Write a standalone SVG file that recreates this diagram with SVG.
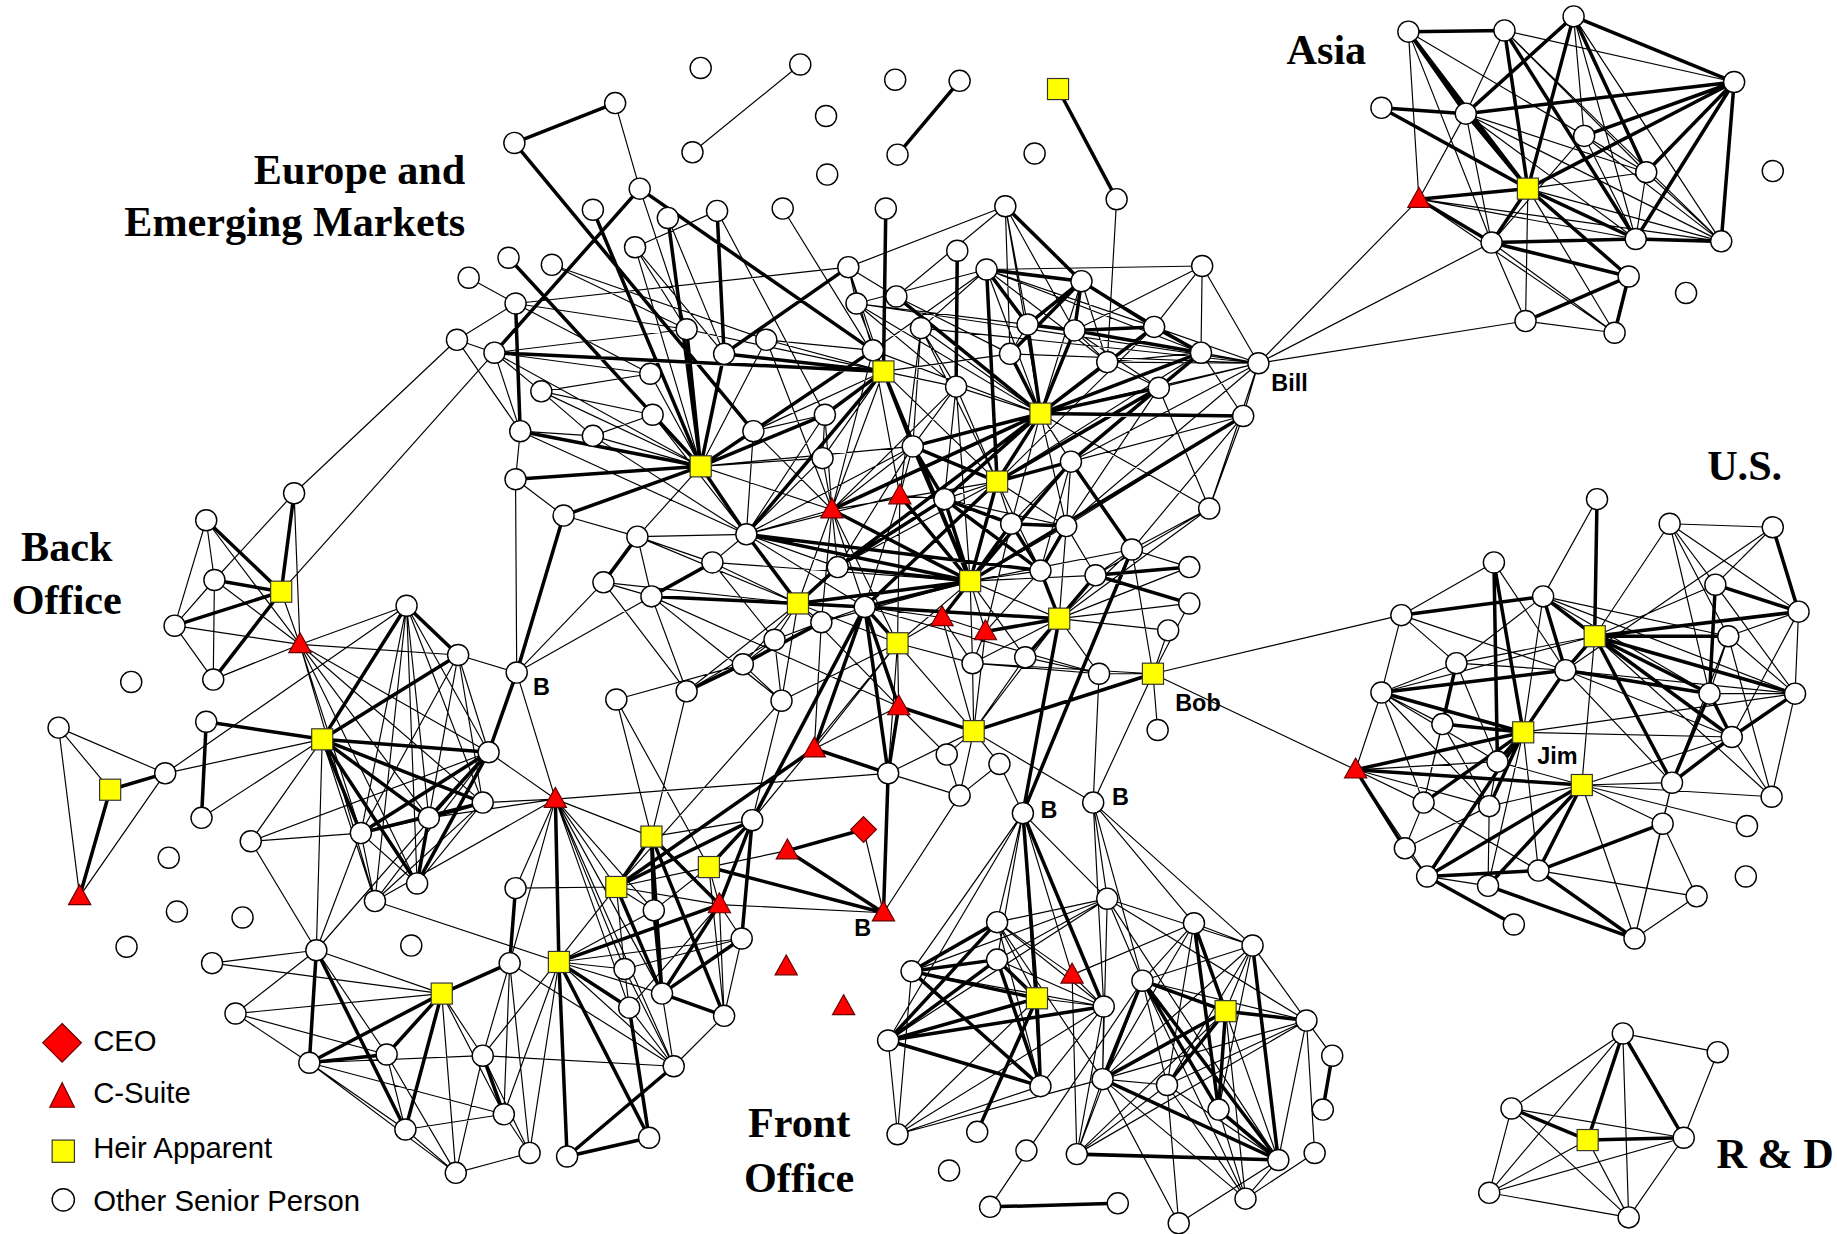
<svg xmlns="http://www.w3.org/2000/svg" xmlns:xlink="http://www.w3.org/1999/xlink" width="1837" height="1234" viewBox="0 0 1837 1234">
<style>
.t{stroke:#000;stroke-width:1;fill:none}
.k{stroke:#000;stroke-width:3;fill:none}
.h{font-family:"Liberation Serif","Times New Roman",serif;font-weight:bold;font-size:36px;fill:#000}
.l{font-family:"Liberation Sans",Arial,sans-serif;font-weight:bold;font-size:20px;fill:#000}
.g{font-family:"Liberation Sans",Arial,sans-serif;font-size:25px;fill:#000}
</style>
<defs>
<circle id="c" r="9" fill="#fff" stroke="#000" stroke-width="1.2"/>
<rect id="q" x="-9" y="-9" width="18" height="18" fill="#ffff00" stroke="#333" stroke-width="1"/>
<polygon id="v" points="0,-10 -9.5,7 9.5,7" fill="#ff0000" stroke="#600" stroke-width="1"/>
</defs>
<rect width="1837" height="1234" fill="#fff"/>
<g transform="scale(1.1717)">
<g id="connectors">
<path id="asia-k" class="k" d="M1202 27L1284 26M1202 27L1251 97M1202 27L1304 161M1284 26L1304 161M1284 26L1396 204M1343 14L1251 97M1343 14L1304 161M1343 14L1480 70M1343 14L1405 147M1179 92L1251 97M1179 92L1304 161M1251 97L1480 70M1304 161L1480 70M1352 116L1480 70M1304 161L1396 204M1304 161L1390 236M1304 161L1211 170M1304 161L1273 207M1211 170L1273 207M1273 207L1396 204M1273 207L1390 236M1396 204L1480 70M1396 204L1469 206M1480 70L1469 206M1390 236L1302 274M1390 236L1378 284M1405 147L1480 70M1251 97L1304 161"/>
<path id="asia-t" class="t" d="M1202 27L1211 170M1202 27L1273 207M1202 27L1405 147M1284 26L1480 70M1284 26L1251 97M1284 26L1405 147M1284 26L1469 206M1343 14L1352 116M1343 14L1469 206M1343 14L1396 204M1251 97L1273 207M1251 97L1396 204M1251 97L1469 206M1251 97L1405 147M1352 116L1469 206M1352 116L1396 204M1304 161L1405 147M1304 161L1302 274M1304 161L1378 284M1304 161L1469 206M1211 170L1396 204M1211 170L1469 206M1211 170L1378 284M1211 170L1251 97M1273 207L1302 274M1273 207L1378 284M1302 274L1378 284M1405 147L1396 204M1405 147L1469 206M1352 116L1273 207M1211 170L1074 310M1273 207L1074 310M1302 274L1074 310"/>
<path id="us-k" class="k" d="M1363 426L1361 543M1513 450L1535 522M1275 480L1300 625M1275 480L1278 650M1464 499L1535 522M1464 499L1459 592M1317 509L1196 525M1317 509L1361 543M1317 509L1336 572M1535 522L1361 543M1361 543L1475 543M1361 543L1459 592M1361 543L1532 592M1361 543L1478 629M1361 543L1427 668M1361 543L1336 572M1243 566L1231 618M1336 572L1179 591M1336 572L1300 625M1336 572L1459 592M1459 592L1478 629M1459 592L1427 668M1532 592L1478 629M1231 618L1300 625M1300 625L1157 657M1300 625L1278 650M1300 625L1215 685M1300 625L1271 688M1300 625L1218 748M1478 629L1427 668M1350 670L1157 657M1350 670L1313 743M1350 670L1270 756M1350 670L1218 748M1157 657L1199 724M1218 748L1292 789M1218 748L1313 743M1270 756L1395 801M1313 743L1419 703M1313 743L1395 801M1179 591L1300 625"/>
<path id="us-t" class="t" d="M1363 426L1317 509M1425 447L1513 450M1425 447L1361 543M1425 447L1464 499M1425 447L1475 543M1425 447L1535 522M1425 447L1459 592M1513 450L1464 499M1513 450L1336 572M1275 480L1196 525M1275 480L1336 572M1464 499L1361 543M1464 499L1532 592M1317 509L1459 592M1317 509L1532 592M1317 509L1475 543M1317 509L1478 629M1317 509L1300 625M1317 509L1243 566M1196 525L1243 566M1196 525L1336 572M1196 525L984 575M1196 525L1179 591M1535 522L1532 592M1535 522L1478 629M1535 522L1475 543M1361 543L1179 591M1361 543L1243 566M1361 543L1512 680M1361 543L1350 670M1475 543L1459 592M1475 543L1427 668M1475 543L1512 680M1475 543L1532 592M1243 566L1179 591M1243 566L1336 572M1243 566L1278 650M1243 566L1215 685M1336 572L1532 592M1336 572L1427 668M1336 572L1478 629M1179 591L1231 618M1179 591L1157 657M1179 591L1215 685M1179 591L1278 650M1179 591L1271 688M1459 592L1532 592M1532 592L1512 680M1231 618L1215 685M1231 618L1271 688M1300 625L1478 629M1300 625L1270 756M1300 625L1313 743M1300 625L1532 592M1478 629L1512 680M1478 629L1350 670M1278 650L1157 657M1278 650L1350 670M1278 650L1271 688M1350 670L1427 668M1350 670L1512 680M1350 670L1419 703M1350 670L1491 705M1350 670L1271 688M1350 670L1395 801M1157 657L1215 685M1157 657L1218 748M1157 657L1271 688M1157 657L984 575M1199 724L1218 748M1199 724L1271 688M1218 748L1270 756M1419 703L1395 801M1419 703L1448 765M1448 765L1395 801M1313 743L1448 765M1427 668L1419 703M1427 668L1395 801M1271 688L1270 756M1215 685L1199 724M1215 685L1313 743"/>
<path id="rd-k" class="k" d="M1385 882L1355 973M1385 882L1437 971M1290 946L1355 973M1355 973L1437 971"/>
<path id="rd-t" class="t" d="M1385 882L1466 898M1466 898L1437 971M1385 882L1290 946M1385 882L1271 1018M1385 882L1390 1039M1290 946L1271 1018M1290 946L1437 971M1290 946L1390 1039M1355 973L1271 1018M1355 973L1390 1039M1437 971L1271 1018M1437 971L1390 1039M1271 1018L1390 1039"/>
<path id="eu-k" class="k" d="M525 88L439 122M819 69L766 132M903 76L953 170M439 122L643 368M546 161L422 301M546 161L745 299M506 179L598 398M570 186L598 398M612 180L618 302M756 178L754 317M434 220L598 398M440 259L444 368M422 301L754 317M618 302L754 317M724 228L618 302M598 398L586 281M598 398L618 302M598 398L557 354M598 398L444 368M598 398L704 354M598 398L440 409M598 398L481 440M598 398L637 456M598 398L745 299M754 317L704 354M754 317L779 381M754 317L828 496M754 317L637 456M765 253L888 353M637 456L681 515M637 456L828 496M637 456L888 487M710 435L828 496M768 423L828 496M888 353L862 302M888 353L877 277M888 353L917 282M888 353L985 279M888 353L945 309M888 353L989 331M888 353L851 411M888 353L806 426M888 353L779 381M888 353L1025 301M888 353L710 435M888 353L715 484M888 353L1061 355M851 411L779 381M851 411L828 496M851 411L914 394M851 411L989 331M851 411L738 518M851 411L842 230M817 214L816 330M842 230L923 240M842 230L877 277M923 240L877 277M923 240L917 282M923 240L985 279M923 240L862 302M858 176L923 240M877 277L917 282M917 282L985 279M917 282L1025 301M985 279L1025 301M1025 301L989 331M989 331L914 394M1061 355L828 496M914 394L828 496M914 394L966 469M779 381L806 426M779 381L828 496M806 426L828 496M806 426L863 447M806 426L888 487M806 426L715 484M863 447L910 449M863 447L828 496M863 447L888 487M910 449L888 487M966 469L873 694M888 487L904 528M935 491L1015 484M935 491L1015 515M935 491L904 528M828 496L804 527M828 496L715 484M828 496L738 518M828 496L681 515M681 515L556 509M681 515L715 484M681 515L738 518M608 480L556 509M544 458L515 497M738 518L766 549M738 518L767 603M738 518L695 639M738 518L904 528M738 518L758 660M738 518L642 700M701 531L634 567M634 567L586 590M841 539L904 528M904 528L875 561M904 528L873 694M984 575L831 624M767 603L831 624M767 603L758 660M695 639L758 660M695 639L526 757M441 574L417 642M441 574L481 440"/>
<path id="eu-t" class="t" d="M683 55L591 130M525 88L546 161M953 170L945 309M546 161L586 281M570 186L618 302M612 180L542 211M612 180L704 354M668 178L754 317M542 211L586 281M542 211L618 302M542 211L598 398M471 226L586 281M471 226L654 290M400 237L440 259M440 259L390 290M440 259L724 228M440 259L586 281M440 259L555 319M390 290L422 301M390 290L444 368M422 301L462 334M422 301L555 319M422 301L586 281M422 301L598 398M422 301L444 368M462 334L555 319M462 334L598 398M462 334L557 354M462 334L506 372M724 228L745 299M724 228L765 253M724 228L858 176M724 228L754 317M724 228L731 259M731 259L842 230M731 259L754 317M731 259L888 353M731 259L816 330M731 259L1074 310M731 259L877 277M765 253L862 302M745 299L754 317M745 299L654 290M754 317L586 281M754 317L654 290M754 317L643 368M754 317L710 435M754 317L816 330M754 317L862 302M754 317L851 411M754 317L702 391M598 398L555 319M598 398L654 290M598 398L506 372M598 398L643 368M598 398L544 458M598 398L702 391M598 398L710 435M598 398L779 381M637 456L710 435M637 456L544 458M637 456L608 480M637 456L715 484M637 456L738 518M637 456L779 381M637 456L704 354M637 456L643 368M637 456L506 372M637 456L444 368M637 456L557 354M637 456L768 423M637 456L702 391M710 435L704 354M710 435L702 391M710 435L643 368M710 435L715 484M710 435L681 515M710 435L738 518M710 435L745 299M710 435L654 290M710 435L779 381M710 435L766 549M710 435L701 531M710 435L816 330M710 435L851 411M768 423L766 549M768 423L779 381M768 423L806 426M768 423L786 280M768 423L745 299M768 423L738 518M888 353L858 176M888 353L923 240M888 353L1074 310M888 353L914 394M888 353L863 447M888 353L816 330M888 353L786 280M888 353L842 230M888 353L910 449M888 353L1032 434M888 353L745 299M851 411L816 330M851 411L786 280M851 411L806 426M851 411L863 447M851 411L910 449M851 411L985 279M851 411L715 484M851 411L888 487M851 411L1025 301M842 230L1026 227M842 230L985 279M842 230L1025 301M842 230L945 309M842 230L786 280M842 230L745 299M923 240L945 309M923 240L1025 301M858 176L877 277M858 176L917 282M858 176L862 302M858 176L765 253M1026 227L985 279M1026 227L1074 310M1026 227L1025 301M1026 227L917 282M877 277L862 302M917 282L945 309M917 282L989 331M985 279L1074 310M945 309L1074 310M945 309L1025 301M945 309L989 331M1025 301L1074 310M1025 301L1061 355M1074 310L1061 355M1074 310L989 331M1074 310L914 394M1074 310L1032 434M1074 310L910 449M1074 310L862 302M1074 310L786 280M1074 310L917 282M989 331L910 449M989 331L1032 434M1061 355L1032 434M1061 355L914 394M1061 355L910 449M1061 355L966 469M914 394L863 447M914 394L910 449M914 394L888 487M816 330L779 381M816 330L828 496M816 330L806 426M786 280L816 330M786 280L779 381M779 381L715 484M806 426L910 449M863 447L841 539M910 449L935 491M910 449L904 528M910 449L828 496M1032 434L966 469M1032 434L935 491M1032 434L904 528M966 469L935 491M966 469L904 528M966 469L828 496M966 469L1015 484M888 487L828 496M888 487L841 539M828 496L841 539M828 496L904 528M828 496L701 531M828 496L830 566M828 496L875 561M828 496L766 549M828 496L608 480M828 496L935 491M681 515L608 480M681 515L701 531M681 515L767 603M681 515L667 598M681 515L661 546M681 515L634 567M681 515L766 549M681 515L544 458M681 515L515 497M681 515L586 590M608 480L544 458M608 480L661 546M544 458L556 509M515 497L556 509M515 497L586 590M515 497L441 574M556 509L586 590M556 509L667 598M556 509L767 603M556 509L441 574M738 518L701 531M738 518L804 527M738 518L938 575M701 531L661 546M701 531L695 639M661 546L634 567M661 546L586 590M661 546L667 598M634 567L667 598M586 590L556 714M526 597L605 740M526 597L634 567M667 598L766 549M667 598L526 757M667 598L642 700M804 527L830 566M804 527L766 549M804 527L841 539M804 527L831 624M841 539L830 566M841 539L831 624M904 528L938 575M904 528L997 538M904 528L1015 484M904 528L1015 515M904 528L831 624M904 528L830 566M766 549L767 603M766 549L830 566M766 549L831 624M766 549L758 660M766 549L642 700M766 549L695 639M830 566L831 624M830 566L938 575M830 566L984 575M875 561L831 624M875 561L938 575M938 575L984 575M938 575L933 685M984 575L997 538M984 575L988 623M984 575L933 685M984 575L1015 515M984 575L966 469M767 603L808 644M767 603L695 639M831 624L808 644M831 624L853 652M831 624L819 679M831 624L933 685M831 624L758 660M808 644L819 679M853 652L819 679M853 652L873 694M758 660L819 679M758 660L474 682M819 679L754 779M441 574L440 409M441 574L391 559M441 574L474 682M440 409L481 440M444 368L506 372M444 368L440 409M506 372L557 354M481 440L544 458M702 391L704 354M643 368L704 354"/>
<path id="sw-k" class="k" d="M251 421L240 505M176 444L240 505M183 495L240 505M149 534L240 505M182 580L240 505M347 517L275 631M347 517L391 559M275 631L176 616M275 631L391 559M275 631L308 711M275 631L366 698M275 631L356 754M275 631L417 642M275 631L412 685M176 616L172 698M94 674L141 660M94 674L68 765M308 711L417 642M308 711L412 685M366 698L412 685M366 698L417 642M366 698L356 754M356 754L417 642M270 811L264 907M270 811L346 964M377 848L264 907M377 848L330 900M377 848L346 964M377 848L435 822M264 907L330 900M474 682L477 821"/>
<path id="sw-t" class="t" d="M251 421L183 495M251 421L256 550M251 421L390 290M240 505L422 301M176 444L183 495M176 444L149 534M176 444L256 550M183 495L149 534M183 495L182 580M183 495L256 550M149 534L182 580M149 534L256 550M182 580L256 550M240 505L256 550M256 550L347 517M256 550L391 559M256 550L308 711M256 550L366 698M256 550L356 754M256 550L417 642M256 550L412 685M256 550L320 769M347 517L417 642M347 517L412 685M347 517L366 698M347 517L356 754M347 517L308 711M347 517L320 769M347 517L141 660M391 559L417 642M391 559L412 685M391 559L366 698M391 559L356 754M391 559L308 711M275 631L141 660M275 631L320 769M275 631L214 718M275 631L270 811M275 631L172 698M50 621L94 674M50 621L141 660M50 621L68 765M141 660L68 765M308 711L366 698M308 711L356 754M308 711L320 769M356 754L412 685M320 769L412 685M320 769L417 642M320 769L477 821M214 718L417 642M214 718L308 711M270 811L330 900M270 811L377 848M270 811L181 822M270 811L201 865M270 811L308 711M270 811L214 718M270 811L417 642M181 822L377 848M201 865L377 848M201 865L264 907M201 865L330 900M377 848L389 1001M377 848L412 901M377 848L430 951M264 907L346 964M264 907L389 1001M264 907L412 901M264 907L430 951M330 900L346 964M330 900L389 1001M346 964L389 1001M346 964L430 951M389 1001L452 984M389 1001L412 901M474 682L440 758M474 682L417 642M474 682L412 685M474 682L366 698M474 682L320 769M474 682L526 757M474 682L558 777M474 682L533 827M474 682L565 848M474 682L435 822M474 682L575 910M474 682L537 860"/>
<path id="ms-k" class="k" d="M526 757L556 714M526 757L642 700M526 757L565 848M556 714L558 777M556 714L614 772M556 714L565 848M556 714L618 867M605 740L642 700M605 740L754 779M642 700L633 801M642 700L614 772M614 772L477 821M614 772L565 848M672 726L737 708M672 726L754 779M754 779L758 660M633 801L565 848M477 821L484 987M477 821L554 971M477 821L537 860M440 758L435 822M565 848L618 867M537 860L554 971M575 910L484 987M554 971L484 987M412 901L430 951M558 777L565 848"/>
<path id="ms-t" class="t" d="M526 757L440 758M526 757L533 827M526 757L558 777M526 757L614 772M526 757L412 901M526 757L605 740M556 714L526 597M556 714L474 682M556 714L642 700M605 740L614 772M605 740L618 867M605 740L558 777M614 772L633 801M614 772L618 867M614 772L754 779M614 772L537 860M737 708L754 779M672 726L605 740M633 801L618 867M633 801L477 821M633 801L533 827M477 821L533 827M477 821L575 910M477 821L565 848M477 821L452 984M477 821L430 951M477 821L558 777M435 822L430 951M435 822L452 984M435 822L412 901M435 822L575 910M533 827L537 860M533 827L575 910M565 848L575 910M537 860L575 910M618 867L575 910M412 901L452 984M412 901L575 910M430 951L452 984"/>
<path id="fo-k" class="k" d="M873 694L885 852M873 694L942 859M851 787L778 829M851 787L758 888M778 829L851 819M778 829L885 852M778 829L888 927M851 819L885 852M851 819L888 927M851 819L758 888M758 888L885 852M758 888L942 859M758 888L888 927M885 852L888 927M885 852L834 966M975 837L941 921M975 837L1046 863M975 837L1040 947M975 837L1091 990M1019 788L1046 863M1019 788L1040 947M1069 807L1091 990M1046 863L1115 871M1046 863L941 921M1046 863L996 926M1046 863L1040 947M1137 901L1129 947M941 921L1091 990M1040 947L1091 990M919 985L1091 990M845 1030L954 1027"/>
<path id="fo-t" class="t" d="M873 694L778 829M873 694L851 787M873 694L851 819M873 694L888 927M873 694L945 767M873 694L758 888M873 694L915 832M933 685L945 767M933 685L1019 788M933 685L1069 807M933 685L975 837M933 685L942 859M945 767L851 787M945 767L778 829M945 767L758 888M945 767L851 819M945 767L975 837M945 767L941 921M945 767L1069 807M945 767L1115 871M945 767L1091 990M851 787L885 852M851 787L942 859M851 787L888 927M851 787L941 921M851 787L915 832M778 829L942 859M778 829L766 968M851 819L942 859M758 888L766 968M885 852L942 859M885 852L766 968M888 927L766 968M888 927L942 859M942 859L941 921M942 859L919 985M942 859L766 968M975 837L996 926M975 837L845 1030M975 837L919 985M975 837L1069 807M975 837L1115 871M975 837L1063 1023M1019 788L1069 807M1019 788L941 921M1019 788L996 926M1019 788L975 837M1069 807L1046 863M1069 807L1115 871M1069 807L1040 947M1069 807L941 921M1069 807L996 926M1046 863L1091 990M1046 863L1063 1023M1046 863L919 985M1115 871L941 921M1115 871L996 926M1115 871L1091 990M1115 871L1122 984M1115 871L1137 901M1115 871L919 985M941 921L919 985M941 921L996 926M941 921L1063 1023M941 921L1006 1044M941 921L766 968M996 926L1091 990M996 926L1063 1023M996 926L1006 1044M996 926L919 985M1040 947L1063 1023M1091 990L1063 1023M1091 990L1006 1044M1122 984L1063 1023M915 832L919 985M915 832L942 859M915 832L1019 788"/>
</g>
<g id="nodes">
<g id="t1"><use href="#c" x="598" y="58"/></g>
<g id="t2"><use href="#c" x="683" y="55"/></g>
<g id="t3"><use href="#c" x="591" y="130"/></g>
<g id="t4"><use href="#c" x="525" y="88"/></g>
<g id="t5"><use href="#c" x="439" y="122"/></g>
<g id="t6"><use href="#c" x="764" y="68"/></g>
<g id="t7"><use href="#c" x="819" y="69"/></g>
<g id="t8"><use href="#c" x="766" y="132"/></g>
<g id="t9"><use href="#c" x="705" y="99"/></g>
<g id="t10"><use href="#c" x="706" y="149"/></g>
<g id="t11"><use href="#c" x="883" y="131"/></g>
<g id="tS"><use href="#q" x="903" y="76"/></g>
<g id="n1"><use href="#c" x="546" y="161"/></g>
<g id="n2"><use href="#c" x="506" y="179"/></g>
<g id="n3"><use href="#c" x="570" y="186"/></g>
<g id="n4"><use href="#c" x="612" y="180"/></g>
<g id="n5"><use href="#c" x="668" y="178"/></g>
<g id="n6"><use href="#c" x="756" y="178"/></g>
<g id="n7"><use href="#c" x="858" y="176"/></g>
<g id="n8"><use href="#c" x="953" y="170"/></g>
<g id="n9"><use href="#c" x="542" y="211"/></g>
<g id="n10"><use href="#c" x="434" y="220"/></g>
<g id="n11"><use href="#c" x="471" y="226"/></g>
<g id="n12"><use href="#c" x="400" y="237"/></g>
<g id="n13"><use href="#c" x="440" y="259"/></g>
<g id="n14"><use href="#c" x="390" y="290"/></g>
<g id="n15"><use href="#c" x="422" y="301"/></g>
<g id="n16"><use href="#c" x="462" y="334"/></g>
<g id="n17"><use href="#c" x="586" y="281"/></g>
<g id="n18"><use href="#c" x="618" y="302"/></g>
<g id="n19"><use href="#c" x="555" y="319"/></g>
<g id="n20"><use href="#c" x="654" y="290"/></g>
<g id="n21"><use href="#c" x="724" y="228"/></g>
<g id="n22"><use href="#c" x="731" y="259"/></g>
<g id="n23"><use href="#c" x="765" y="253"/></g>
<g id="n24"><use href="#c" x="745" y="299"/></g>
<g id="S1"><use href="#q" x="754" y="317"/></g>
<g id="n25"><use href="#c" x="817" y="214"/></g>
<g id="n26"><use href="#c" x="842" y="230"/></g>
<g id="n27"><use href="#c" x="923" y="240"/></g>
<g id="n28"><use href="#c" x="1026" y="227"/></g>
<g id="n30"><use href="#c" x="786" y="280"/></g>
<g id="n31"><use href="#c" x="877" y="277"/></g>
<g id="n32"><use href="#c" x="917" y="282"/></g>
<g id="n33"><use href="#c" x="985" y="279"/></g>
<g id="n34"><use href="#c" x="862" y="302"/></g>
<g id="n35"><use href="#c" x="945" y="309"/></g>
<g id="n36"><use href="#c" x="1025" y="301"/></g>
<g id="Bill"><use href="#c" x="1074" y="310"/></g>
<g id="n37"><use href="#c" x="816" y="330"/></g>
<g id="n38"><use href="#c" x="989" y="331"/></g>
<g id="S2"><use href="#q" x="888" y="353"/></g>
<g id="n39"><use href="#c" x="1061" y="355"/></g>
<g id="n40"><use href="#c" x="704" y="354"/></g>
<g id="n41"><use href="#c" x="557" y="354"/></g>
<g id="n42"><use href="#c" x="506" y="372"/></g>
<g id="n43"><use href="#c" x="444" y="368"/></g>
<g id="S3"><use href="#q" x="598" y="398"/></g>
<g id="n44"><use href="#c" x="643" y="368"/></g>
<g id="n45"><use href="#c" x="702" y="391"/></g>
<g id="n46"><use href="#c" x="779" y="381"/></g>
<g id="n47"><use href="#c" x="914" y="394"/></g>
<g id="S4"><use href="#q" x="851" y="411"/></g>
<g id="n48"><use href="#c" x="806" y="426"/></g>
<g id="n49"><use href="#c" x="863" y="447"/></g>
<g id="n50"><use href="#c" x="910" y="449"/></g>
<g id="n51"><use href="#c" x="1032" y="434"/></g>
<g id="T1"><use href="#v" x="710" y="435"/></g>
<g id="T2"><use href="#v" x="768" y="423"/></g>
<g id="n52"><use href="#c" x="440" y="409"/></g>
<g id="n53"><use href="#c" x="481" y="440"/></g>
<g id="n54"><use href="#c" x="544" y="458"/></g>
<g id="n55"><use href="#c" x="637" y="456"/></g>
<g id="n56"><use href="#c" x="966" y="469"/></g>
<g id="n57"><use href="#c" x="888" y="487"/></g>
<g id="n58"><use href="#c" x="935" y="491"/></g>
<g id="n59"><use href="#c" x="1015" y="484"/></g>
<g id="n60"><use href="#c" x="1015" y="515"/></g>
<g id="S5"><use href="#q" x="828" y="496"/></g>
<g id="n61"><use href="#c" x="608" y="480"/></g>
<g id="n62"><use href="#c" x="715" y="484"/></g>
<g id="n63"><use href="#c" x="515" y="497"/></g>
<g id="n64"><use href="#c" x="556" y="509"/></g>
<g id="S6"><use href="#q" x="681" y="515"/></g>
<g id="n65"><use href="#c" x="738" y="518"/></g>
<g id="n66"><use href="#c" x="701" y="531"/></g>
<g id="T3"><use href="#v" x="804" y="527"/></g>
<g id="T4"><use href="#v" x="841" y="539"/></g>
<g id="S7"><use href="#q" x="904" y="528"/></g>
<g id="n67"><use href="#c" x="997" y="538"/></g>
<g id="S8"><use href="#q" x="766" y="549"/></g>
<g id="n68"><use href="#c" x="661" y="546"/></g>
<g id="n69"><use href="#c" x="634" y="567"/></g>
<g id="n70"><use href="#c" x="875" y="561"/></g>
<g id="n71"><use href="#c" x="830" y="566"/></g>
<g id="n72"><use href="#c" x="938" y="575"/></g>
<g id="Bob"><use href="#q" x="984" y="575"/></g>
<g id="n73"><use href="#c" x="988" y="623"/></g>
<g id="n74"><use href="#c" x="586" y="590"/></g>
<g id="n75"><use href="#c" x="526" y="597"/></g>
<g id="n76"><use href="#c" x="667" y="598"/></g>
<g id="T5"><use href="#v" x="767" y="603"/></g>
<g id="S9"><use href="#q" x="831" y="624"/></g>
<g id="n77"><use href="#c" x="808" y="644"/></g>
<g id="n78"><use href="#c" x="853" y="652"/></g>
<g id="T6"><use href="#v" x="695" y="639"/></g>
<g id="n79"><use href="#c" x="758" y="660"/></g>
<g id="n80"><use href="#c" x="819" y="679"/></g>
<g id="B1"><use href="#c" x="873" y="694"/></g>
<g id="B2"><use href="#c" x="933" y="685"/></g>
<g id="Bn"><use href="#c" x="441" y="574"/></g>
<g id="w1"><use href="#c" x="251" y="421"/></g>
<g id="w2"><use href="#c" x="176" y="444"/></g>
<g id="w3"><use href="#c" x="183" y="495"/></g>
<g id="WS1"><use href="#q" x="240" y="505"/></g>
<g id="w4"><use href="#c" x="149" y="534"/></g>
<g id="WT1"><use href="#v" x="256" y="550"/></g>
<g id="w5"><use href="#c" x="182" y="580"/></g>
<g id="w6"><use href="#c" x="112" y="582"/></g>
<g id="w7"><use href="#c" x="347" y="517"/></g>
<g id="w8"><use href="#c" x="391" y="559"/></g>
<g id="w9"><use href="#c" x="50" y="621"/></g>
<g id="w10"><use href="#c" x="176" y="616"/></g>
<g id="WS2"><use href="#q" x="275" y="631"/></g>
<g id="WS3"><use href="#q" x="94" y="674"/></g>
<g id="w11"><use href="#c" x="141" y="660"/></g>
<g id="w12"><use href="#c" x="172" y="698"/></g>
<g id="WT2"><use href="#v" x="68" y="765"/></g>
<g id="w13"><use href="#c" x="144" y="732"/></g>
<g id="w14"><use href="#c" x="151" y="778"/></g>
<g id="w15"><use href="#c" x="207" y="783"/></g>
<g id="w16"><use href="#c" x="108" y="808"/></g>
<g id="w17"><use href="#c" x="181" y="822"/></g>
<g id="w18"><use href="#c" x="214" y="718"/></g>
<g id="w19"><use href="#c" x="308" y="711"/></g>
<g id="w20"><use href="#c" x="366" y="698"/></g>
<g id="w21"><use href="#c" x="356" y="754"/></g>
<g id="w22"><use href="#c" x="320" y="769"/></g>
<g id="w23"><use href="#c" x="270" y="811"/></g>
<g id="w24"><use href="#c" x="351" y="807"/></g>
<g id="WS4"><use href="#q" x="377" y="848"/></g>
<g id="w25"><use href="#c" x="201" y="865"/></g>
<g id="w26"><use href="#c" x="264" y="907"/></g>
<g id="w27"><use href="#c" x="330" y="900"/></g>
<g id="w28"><use href="#c" x="346" y="964"/></g>
<g id="w29"><use href="#c" x="389" y="1001"/></g>
<g id="w30"><use href="#c" x="417" y="642"/></g>
<g id="w31"><use href="#c" x="412" y="685"/></g>
<g id="WT3"><use href="#v" x="474" y="682"/></g>
<g id="m1"><use href="#c" x="440" y="758"/></g>
<g id="MS1"><use href="#q" x="526" y="757"/></g>
<g id="MS2"><use href="#q" x="556" y="714"/></g>
<g id="MS3"><use href="#q" x="605" y="740"/></g>
<g id="m2"><use href="#c" x="558" y="777"/></g>
<g id="MT1"><use href="#v" x="614" y="772"/></g>
<g id="m3"><use href="#c" x="642" y="700"/></g>
<g id="MT2"><use href="#v" x="672" y="726"/></g>
<g id="CEO"><polygon points="737,697 748,708 737,719 726,708" fill="#ff0000" stroke="#600" stroke-width="1"/></g>
<g id="MT3"><use href="#v" x="754" y="779"/></g>
<g id="m4"><use href="#c" x="633" y="801"/></g>
<g id="m5"><use href="#c" x="435" y="822"/></g>
<g id="MS4"><use href="#q" x="477" y="821"/></g>
<g id="m6"><use href="#c" x="533" y="827"/></g>
<g id="m7"><use href="#c" x="565" y="848"/></g>
<g id="m8"><use href="#c" x="537" y="860"/></g>
<g id="m9"><use href="#c" x="618" y="867"/></g>
<g id="MT4"><use href="#v" x="671" y="825"/></g>
<g id="MT5"><use href="#v" x="720" y="859"/></g>
<g id="m10"><use href="#c" x="575" y="910"/></g>
<g id="m11"><use href="#c" x="554" y="971"/></g>
<g id="m12"><use href="#c" x="484" y="987"/></g>
<g id="m13"><use href="#c" x="452" y="984"/></g>
<g id="m14"><use href="#c" x="430" y="951"/></g>
<g id="m15"><use href="#c" x="412" y="901"/></g>
<g id="f1"><use href="#c" x="778" y="829"/></g>
<g id="f2"><use href="#c" x="758" y="888"/></g>
<g id="f3"><use href="#c" x="766" y="968"/></g>
<g id="f4"><use href="#c" x="851" y="787"/></g>
<g id="f5"><use href="#c" x="945" y="767"/></g>
<g id="f6"><use href="#c" x="851" y="819"/></g>
<g id="FS1"><use href="#q" x="885" y="852"/></g>
<g id="FT1"><use href="#v" x="915" y="832"/></g>
<g id="f7"><use href="#c" x="942" y="859"/></g>
<g id="f8"><use href="#c" x="975" y="837"/></g>
<g id="f9"><use href="#c" x="1019" y="788"/></g>
<g id="f10"><use href="#c" x="1069" y="807"/></g>
<g id="FS2"><use href="#q" x="1046" y="863"/></g>
<g id="f11"><use href="#c" x="1115" y="871"/></g>
<g id="f12"><use href="#c" x="1137" y="901"/></g>
<g id="f13"><use href="#c" x="1129" y="947"/></g>
<g id="f14"><use href="#c" x="888" y="927"/></g>
<g id="f15"><use href="#c" x="941" y="921"/></g>
<g id="f16"><use href="#c" x="996" y="926"/></g>
<g id="f17"><use href="#c" x="1040" y="947"/></g>
<g id="f18"><use href="#c" x="834" y="966"/></g>
<g id="f19"><use href="#c" x="876" y="982"/></g>
<g id="f20"><use href="#c" x="810" y="999"/></g>
<g id="f21"><use href="#c" x="919" y="985"/></g>
<g id="f22"><use href="#c" x="1091" y="990"/></g>
<g id="f23"><use href="#c" x="1122" y="984"/></g>
<g id="f24"><use href="#c" x="1063" y="1023"/></g>
<g id="f25"><use href="#c" x="1006" y="1044"/></g>
<g id="f26"><use href="#c" x="845" y="1030"/></g>
<g id="f27"><use href="#c" x="954" y="1027"/></g>
<g id="A1"><use href="#c" x="1202" y="27"/></g>
<g id="A2"><use href="#c" x="1284" y="26"/></g>
<g id="A3"><use href="#c" x="1343" y="14"/></g>
<g id="A4"><use href="#c" x="1480" y="70"/></g>
<g id="A5"><use href="#c" x="1179" y="92"/></g>
<g id="A6"><use href="#c" x="1251" y="97"/></g>
<g id="A7"><use href="#c" x="1352" y="116"/></g>
<g id="A8"><use href="#c" x="1405" y="147"/></g>
<g id="A9"><use href="#q" x="1304" y="161"/></g>
<g id="A10"><use href="#v" x="1211" y="170"/></g>
<g id="A11"><use href="#c" x="1273" y="207"/></g>
<g id="A12"><use href="#c" x="1396" y="204"/></g>
<g id="A13"><use href="#c" x="1469" y="206"/></g>
<g id="A14"><use href="#c" x="1390" y="236"/></g>
<g id="A15"><use href="#c" x="1302" y="274"/></g>
<g id="A16"><use href="#c" x="1378" y="284"/></g>
<g id="A17"><use href="#c" x="1513" y="146"/></g>
<g id="A18"><use href="#c" x="1439" y="250"/></g>
<g id="U1"><use href="#c" x="1363" y="426"/></g>
<g id="U2"><use href="#c" x="1425" y="447"/></g>
<g id="U3"><use href="#c" x="1513" y="450"/></g>
<g id="U4"><use href="#c" x="1275" y="480"/></g>
<g id="U5"><use href="#c" x="1464" y="499"/></g>
<g id="U6"><use href="#c" x="1317" y="509"/></g>
<g id="U7"><use href="#c" x="1196" y="525"/></g>
<g id="U8"><use href="#c" x="1535" y="522"/></g>
<g id="US9"><use href="#q" x="1361" y="543"/></g>
<g id="U10"><use href="#c" x="1475" y="543"/></g>
<g id="U11"><use href="#c" x="1243" y="566"/></g>
<g id="U12"><use href="#c" x="1336" y="572"/></g>
<g id="U13"><use href="#c" x="1179" y="591"/></g>
<g id="U14"><use href="#c" x="1459" y="592"/></g>
<g id="U15"><use href="#c" x="1532" y="592"/></g>
<g id="U16"><use href="#c" x="1231" y="618"/></g>
<g id="Jim"><use href="#q" x="1300" y="625"/></g>
<g id="U18"><use href="#c" x="1478" y="629"/></g>
<g id="U19"><use href="#c" x="1278" y="650"/></g>
<g id="US20"><use href="#q" x="1350" y="670"/></g>
<g id="U21"><use href="#c" x="1427" y="668"/></g>
<g id="U22"><use href="#c" x="1512" y="680"/></g>
<g id="U23"><use href="#c" x="1215" y="685"/></g>
<g id="U24"><use href="#c" x="1271" y="688"/></g>
<g id="UT"><use href="#v" x="1157" y="657"/></g>
<g id="U25"><use href="#c" x="1199" y="724"/></g>
<g id="U26"><use href="#c" x="1218" y="748"/></g>
<g id="U27"><use href="#c" x="1270" y="756"/></g>
<g id="U28"><use href="#c" x="1313" y="743"/></g>
<g id="U29"><use href="#c" x="1419" y="703"/></g>
<g id="U30"><use href="#c" x="1491" y="705"/></g>
<g id="U31"><use href="#c" x="1490" y="748"/></g>
<g id="U32"><use href="#c" x="1448" y="765"/></g>
<g id="U33"><use href="#c" x="1292" y="789"/></g>
<g id="U34"><use href="#c" x="1395" y="801"/></g>
<g id="R1"><use href="#c" x="1385" y="882"/></g>
<g id="R2"><use href="#c" x="1466" y="898"/></g>
<g id="R3"><use href="#c" x="1290" y="946"/></g>
<g id="RS"><use href="#q" x="1355" y="973"/></g>
<g id="R4"><use href="#c" x="1437" y="971"/></g>
<g id="R5"><use href="#c" x="1271" y="1018"/></g>
<g id="R6"><use href="#c" x="1390" y="1039"/></g>
</g>
<g id="labels">
<text class="h" x="397" y="157" text-anchor="end">Europe and</text>
<text class="h" x="397" y="201" text-anchor="end">Emerging Markets</text>
<text class="h" x="1098" y="55">Asia</text>
<text class="h" x="1457" y="410">U.S.</text>
<text class="h" x="57" y="479" text-anchor="middle">Back</text>
<text class="h" x="57" y="524" text-anchor="middle">Office</text>
<text class="h" x="682" y="970" text-anchor="middle">Front</text>
<text class="h" x="682" y="1017" text-anchor="middle">Office</text>
<text class="h" x="1465" y="997">R &amp; D</text>
<text class="l" x="1085" y="334">Bill</text>
<text class="l" x="1003" y="607">Bob</text>
<text class="l" x="1312" y="652">Jim</text>
<text class="l" x="455" y="593">B</text>
<text class="l" x="888" y="698">B</text>
<text class="l" x="949" y="687">B</text>
<text class="l" x="729" y="799">B</text>
</g>
<g id="legend">
<polygon points="53,873.5 69.5,890 53,906.5 36.5,890" fill="#ff0000" stroke="#600" stroke-width="1"/>
<polygon points="53,924 42.5,945 63.5,945" fill="#ff0000" stroke="#600" stroke-width="1"/>
<rect x="44.5" y="973" width="19" height="19" fill="#ffff00" stroke="#333" stroke-width="1"/>
<circle cx="54" cy="1024" r="9.5" fill="#fff" stroke="#000" stroke-width="1.2"/>
<text class="g" x="79.5" y="897">CEO</text>
<text class="g" x="79.5" y="941.5">C-Suite</text>
<text class="g" x="79.5" y="988.5">Heir Apparent</text>
<text class="g" x="79.5" y="1033.5">Other Senior Person</text>
</g>
</g>
</svg>
